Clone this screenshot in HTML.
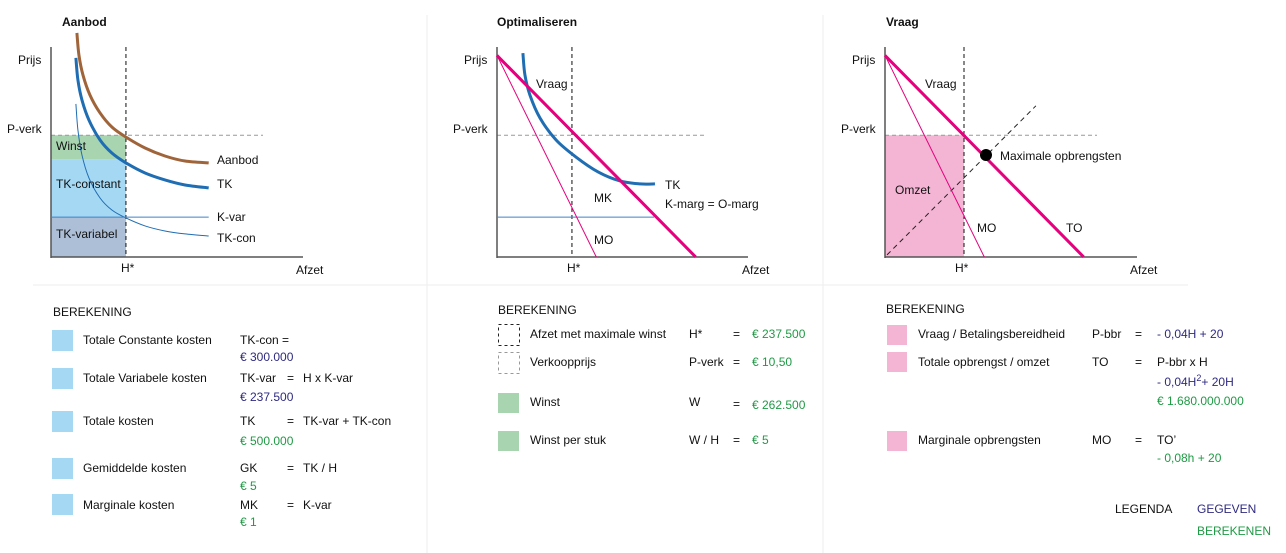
<!DOCTYPE html>
<html><head><meta charset="utf-8"><style>
html,body{margin:0;padding:0;background:#fff;}
svg{display:block;font-family:"Liberation Sans",sans-serif;}
text{font-size:12px;fill:#111;}
.b{font-weight:bold;}
.nv{fill:#2e2a80;}
.gr{fill:#1f9a45;}
</style></head><body>
<svg id="s" width="1286" height="553" viewBox="0 0 1286 553">
<line x1="427" y1="15" x2="427" y2="553" stroke="#eee"/>
<line x1="823" y1="15" x2="823" y2="553" stroke="#eee"/>
<line x1="33" y1="285" x2="1188" y2="285" stroke="#eee"/>
<g id="c1"></g>
<g id="c2"></g>
<g id="c3"></g>

<g>
<text x="53" y="316">BEREKENING</text>
<rect x="52" y="330" width="21" height="21" fill="#a5d8f3"/>
<rect x="52" y="368" width="21" height="21" fill="#a5d8f3"/>
<rect x="52" y="411" width="21" height="21" fill="#a5d8f3"/>
<rect x="52" y="458" width="21" height="21" fill="#a5d8f3"/>
<rect x="52" y="494" width="21" height="21" fill="#a5d8f3"/>
<text x="83" y="344">Totale Constante kosten</text><text x="240" y="344">TK-con  =</text><text x="240" y="361" class="nv">€ 300.000</text>
<text x="83" y="382">Totale Variabele kosten</text><text x="240" y="382">TK-var</text><text x="287" y="382">=</text><text x="303" y="382">H x K-var</text><text x="240" y="401" class="nv">€ 237.500</text>
<text x="83" y="425">Totale kosten</text><text x="240" y="425">TK</text><text x="287" y="425">=</text><text x="303" y="425">TK-var + TK-con</text><text x="240" y="445" class="gr">€ 500.000</text>
<text x="83" y="472">Gemiddelde kosten</text><text x="240" y="472">GK</text><text x="287" y="472">=</text><text x="303" y="472">TK / H</text><text x="240" y="490" class="gr">€ 5</text>
<text x="83" y="509">Marginale kosten</text><text x="240" y="509">MK</text><text x="287" y="509">=</text><text x="303" y="509">K-var</text><text x="240" y="526" class="gr">€ 1</text>
</g>

<g>
<text x="498" y="314">BEREKENING</text>
<rect x="498.5" y="324.5" width="21" height="21" fill="none" stroke="#222" stroke-dasharray="3,3"/>
<rect x="498.5" y="352.5" width="21" height="21" fill="none" stroke="#999" stroke-dasharray="3,3"/>
<rect x="498" y="393" width="21" height="20" fill="#a8d5b0"/>
<rect x="498" y="431" width="21" height="20" fill="#a8d5b0"/>
<text x="530" y="338">Afzet met maximale winst</text><text x="689" y="338">H*</text><text x="733" y="338">=</text><text x="752" y="338" class="gr">€ 237.500</text>
<text x="530" y="366">Verkoopprijs</text><text x="689" y="366">P-verk</text><text x="733" y="366">=</text><text x="752" y="366" class="gr">€ 10,50</text>
<text x="530" y="406">Winst</text><text x="689" y="406">W</text><text x="733" y="408">=</text><text x="752" y="409" class="gr">€ 262.500</text>
<text x="530" y="444">Winst per stuk</text><text x="689" y="444">W / H</text><text x="733" y="444">=</text><text x="752" y="444" class="gr">€ 5</text>
</g>

<g>
<text x="886" y="313">BEREKENING</text>
<rect x="887" y="325" width="20" height="20" fill="#f4b5d4"/>
<rect x="887" y="352" width="20" height="20" fill="#f4b5d4"/>
<rect x="887" y="431" width="20" height="20" fill="#f4b5d4"/>
<text x="918" y="338">Vraag / Betalingsbereidheid</text><text x="1092" y="338">P-bbr</text><text x="1135" y="338">=</text><text x="1157" y="338" class="nv">- 0,04H + 20</text>
<text x="918" y="366">Totale opbrengst / omzet</text><text x="1092" y="366">TO</text><text x="1135" y="366">=</text><text x="1157" y="366">P-bbr x H</text>
<text x="1157" y="386" class="nv">- 0,04H<tspan dy="-5" font-size="9">2</tspan><tspan dy="5">+ 20H</tspan></text>
<text x="1157" y="405" class="gr">€ 1.680.000.000</text>
<text x="918" y="444">Marginale opbrengsten</text><text x="1092" y="444">MO</text><text x="1135" y="444">=</text><text x="1157" y="444">TO’</text>
<text x="1157" y="462" class="gr">- 0,08h + 20</text>
<text x="1115" y="513">LEGENDA</text>
<text x="1197" y="513" class="nv">GEGEVEN</text>
<text x="1197" y="535" class="gr">BEREKENEN</text>
</g>
</svg>
<script>
const c1AanbodX = [10.3, 11.1, 12.7, 15.5, 19.5, 24.2, 29.8, 37.4, 45.3, 53.3, 62.7];
const c1Aanbod = [106.7, 96.2, 86.7, 77.1, 68.6, 61.9, 57.1, 51.9, 48.1, 45.7, 44.8];
const c1TKx = [9.9, 10.7, 12.3, 15.1, 19.5, 24.2, 29.8, 37.4, 45.3, 53.3, 62.7];
const c1TK = [94.8, 84.3, 74.8, 65.2, 55.7, 49.5, 44.8, 40, 36.7, 34.3, 32.9];
const c1TKcon = [72.9, 60.5, 48.6, 37.6, 28.1, 22.4, 18.6, 14.8, 12.4, 11, 10];
const c1Kvar = 19;
const hStar = 29.8;
const pVerk = 58;
const c2TKx = [10.3, 11.1, 13.1, 17.1, 23.5, 31.4, 40.2, 48.9, 56.9, 62.8];
const c2TK = [97.1, 86.7, 77.1, 66.2, 55.7, 47.6, 40.5, 36.2, 34.8, 34.8];
const demandX = [0, 79];
const demandY = [96, 0];
const moX = [0, 39.5];
const moY = [96, 0];
const toLineX = [0.8, 60];
const toLineY = [1, 72];

const NS = "http://www.w3.org/2000/svg";
function mk(parent, tag, attrs) {
  const e = document.createElementNS(NS, tag);
  for (const k in attrs) e.setAttribute(k, attrs[k]);
  parent.appendChild(e);
  return e;
}
function scales(x0) {
  return { sx: v => x0 + v * 2.515, sy: v => 257 - v * 2.1 };
}
function pathFrom(xs, ys, s) {
  return xs.map((x, i) => (i ? "L" : "M") + s.sx(x).toFixed(1) + "," + s.sy(ys[i]).toFixed(1)).join(" ");
}
function smooth(xs, ys, s) {
  const p = xs.map((x, i) => [s.sx(x), s.sy(ys[i])]);
  let d = "M" + p[0][0] + "," + p[0][1];
  for (let i = 0; i < p.length - 1; i++) {
    const p0 = p[i - 1] || p[i], p1 = p[i], p2 = p[i + 1], p3 = p[i + 2] || p2;
    const c1 = [p1[0] + (p2[0] - p0[0]) / 6, p1[1] + (p2[1] - p0[1]) / 6];
    const c2 = [p2[0] - (p3[0] - p1[0]) / 6, p2[1] - (p3[1] - p1[1]) / 6];
    d += " C" + c1.join(",") + " " + c2.join(",") + " " + p2.join(",");
  }
  return d;
}
function txt(g, x, y, t, name, cls) {
  const e = mk(g, "text", { x: x, y: y });
  if (cls) e.setAttribute("class", cls);
  e.textContent = t;
  
  
  return e;
}
function axes(g, s, x0, xEnd, pvEnd, title, titleX) {
  txt(g, titleX, 26, title, "chart-title", "b");
  let e = mk(g, "line", { x1: s.sx(pvEnd[0]), y1: s.sy(pVerk), x2: pvEnd[1], y2: s.sy(pVerk), stroke: "#999", "stroke-dasharray": "4,3" });
  
  
  e = mk(g, "line", { x1: x0, y1: 47, x2: x0, y2: 258, stroke: "#555", "stroke-width": 1.5 });
  
  
  e = mk(g, "line", { x1: x0, y1: 257, x2: xEnd, y2: 257, stroke: "#555", "stroke-width": 1.5 });
  
  
  txt(g, x0 - 33, 64, "Prijs", "y-axis-title");
  txt(g, x0 - 44, 133, "P-verk", "p-verk-label");
  txt(g, s.sx(hStar) - 5, 272, "H*", "h-star-label");
  txt(g, x0 + 245, 274, "Afzet", "x-axis-title");
}
function hLine(g, s) {
  const e = mk(g, "line", { x1: s.sx(hStar), y1: 47, x2: s.sx(hStar), y2: 257, stroke: "#111", "stroke-dasharray": "4,3" });
  
  
}
function curve(g, d, col, w, name) {
  const e = mk(g, "path", { d: d, fill: "none", stroke: col, "stroke-width": w });
  
  
}

(function () {
  const g = document.getElementById("c1"), s = scales(51);
  let e = mk(g, "rect", { x: s.sx(0), y: s.sy(pVerk), width: s.sx(hStar) - s.sx(0), height: s.sy(46.5) - s.sy(pVerk), fill: "#a8d5b0" });
   
  e = mk(g, "rect", { x: s.sx(0), y: s.sy(46.5), width: s.sx(hStar) - s.sx(0), height: s.sy(c1Kvar) - s.sy(46.5), fill: "#a5d8f3" });
   
  e = mk(g, "rect", { x: s.sx(0), y: s.sy(c1Kvar), width: s.sx(hStar) - s.sx(0), height: s.sy(0) - s.sy(c1Kvar), fill: "#adbfd6" });
   
  axes(g, s, 51, 303, [0, 263], "Aanbod", 62);
  hLine(g, s);
  curve(g, smooth(c1AanbodX, c1Aanbod, s), "#a0643a", 3, "aanbod-curve");
  curve(g, smooth(c1TKx, c1TK, s), "#1f6db3", 3, "tk-curve");
  curve(g, smooth(c1TKx, c1TKcon, s), "#1f6db3", 1, "tk-con-curve");
  curve(g, pathFrom([0, 62.7], [c1Kvar, c1Kvar], s), "#3c84c4", 1, "k-var-line");
  txt(g, 56, 150, "Winst", "winst-label");
  txt(g, 56, 188, "TK-constant", "tk-constant-label");
  txt(g, 56, 238, "TK-variabel", "tk-variabel-label");
  txt(g, 217, 164, "Aanbod", "aanbod-label");
  txt(g, 217, 188, "TK", "tk-label");
  txt(g, 217, 221, "K-var", "k-var-label");
  txt(g, 217, 242, "TK-con", "tk-con-label");
})();

(function () {
  const g = document.getElementById("c2"), s = scales(497);
  axes(g, s, 497, 748, [0, 706], "Optimaliseren", 497);
  hLine(g, s);
  curve(g, pathFrom([0, 62.5], [c1Kvar, c1Kvar], s), "#3c84c4", 1, "k-var-line");
  curve(g, smooth(c2TKx, c2TK, s), "#1f6db3", 3, "tk-curve");
  curve(g, pathFrom(moX, moY, s), "#e5007e", 1, "mo-line");
  curve(g, pathFrom(demandX, demandY, s), "#e5007e", 3, "vraag-line");
  txt(g, 536, 88, "Vraag", "vraag-label");
  txt(g, 594, 202, "MK", "mk-label");
  txt(g, 594, 244, "MO", "mo-label");
  txt(g, 665, 189, "TK", "tk-label");
  txt(g, 665, 208, "K-marg =  O-marg", "k-marg-label");
})();

(function () {
  const g = document.getElementById("c3"), s = scales(885);
  let e = mk(g, "rect", { x: s.sx(0), y: s.sy(pVerk), width: s.sx(hStar) - s.sx(0) + 4, height: s.sy(0) - s.sy(pVerk), fill: "#f4b5d4" });
   
  axes(g, s, 885, 1137, [0, 1097], "Vraag", 886);
  e = mk(g, "line", { x1: 964, y1: 47, x2: 964, y2: 257, stroke: "#111", "stroke-dasharray": "4,3" });
   
  e = mk(g, "path", { d: pathFrom(toLineX, toLineY, s), fill: "none", stroke: "#222", "stroke-dasharray": "5,4", "stroke-width": 1 });
   
  curve(g, pathFrom(moX, moY, s), "#e5007e", 1, "mo-line");
  curve(g, pathFrom(demandX, demandY, s), "#e5007e", 3, "vraag-line");
  e = mk(g, "circle", { cx: 986, cy: 155, r: 6, fill: "#000" });
   
  txt(g, 925, 88, "Vraag", "vraag-label");
  txt(g, 1000, 160, "Maximale opbrengsten", "max-opbrengsten-label");
  txt(g, 895, 194, "Omzet", "omzet-label");
  txt(g, 977, 232, "MO", "mo-label");
  txt(g, 1066, 232, "TO", "to-label");
})();
</script>
</body></html>
